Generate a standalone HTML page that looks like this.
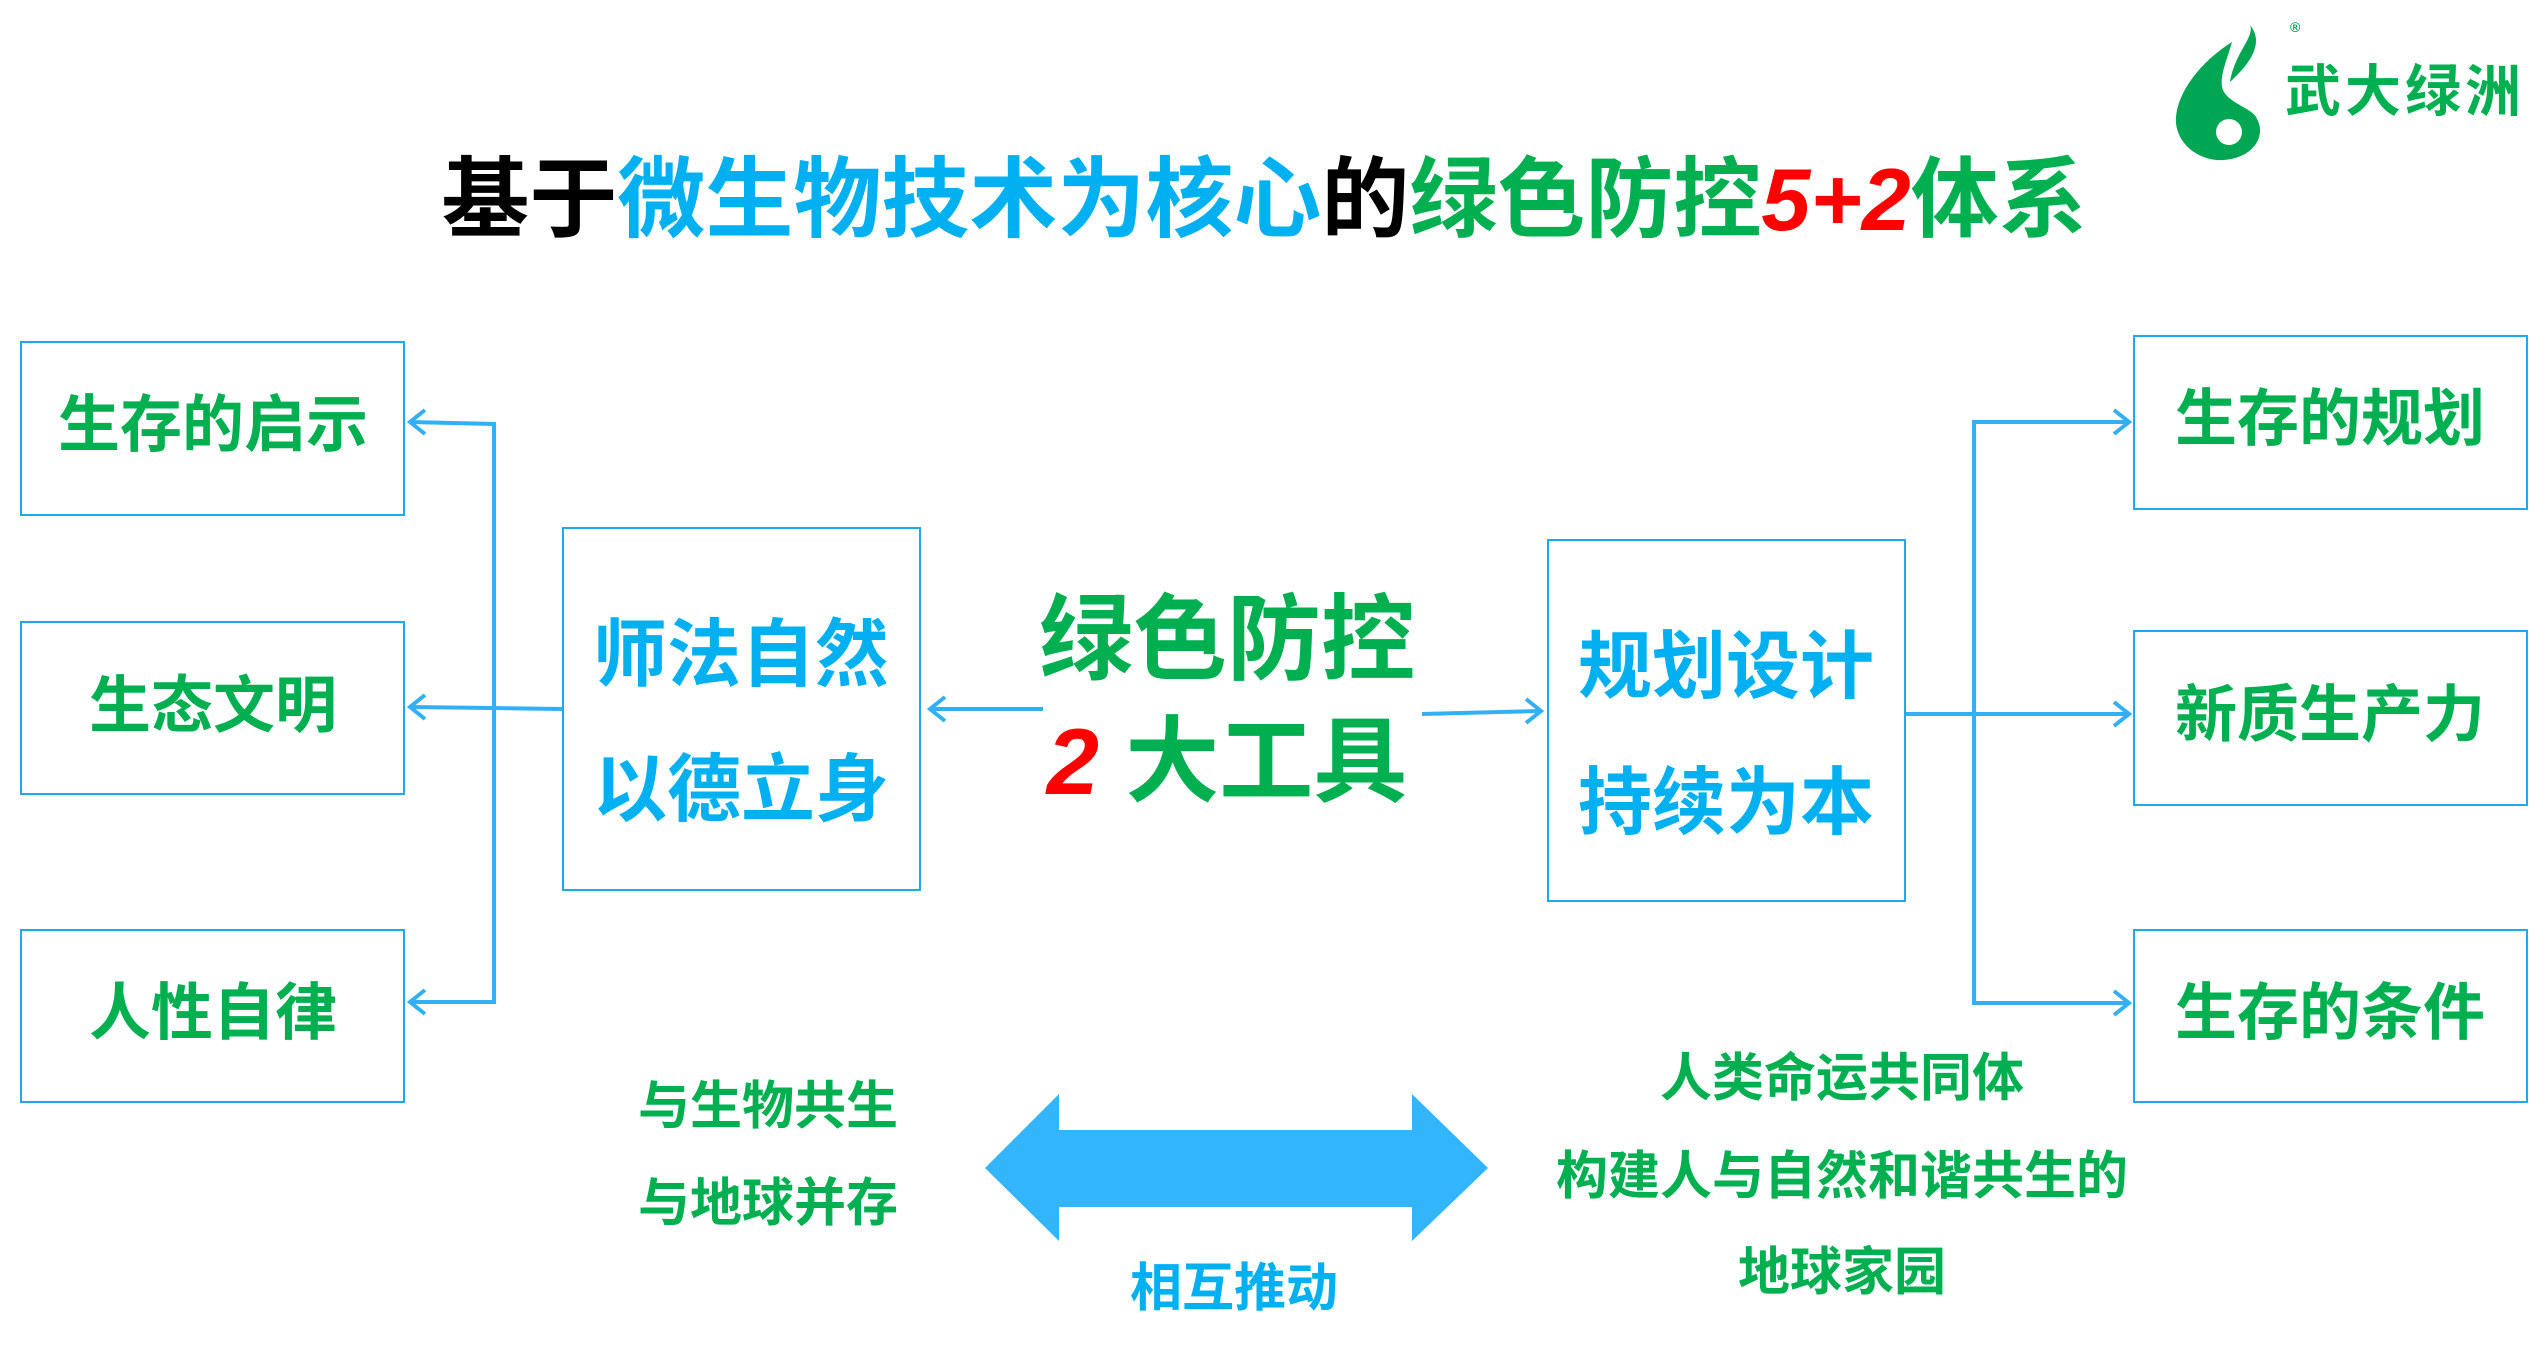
<!DOCTYPE html>
<html><head><meta charset="utf-8"><style>
html,body{margin:0;padding:0;background:#fff}
body{width:2548px;height:1358px;position:relative;overflow:hidden;font-family:"Liberation Sans","Noto Sans CJK SC","WenQuanYi Zen Hei",sans-serif;font-weight:bold}
.t{position:absolute;white-space:nowrap;line-height:1;transform:translate(-50%,-50%)}
.g{color:#00b050}.c{color:#00b0f0}.r{color:#ff0000}.k{color:#000}
.box{position:absolute;border:2px solid #1ea8ee;box-sizing:border-box}
</style></head><body>
<svg width="2548" height="1358" style="position:absolute;left:0;top:0">
<g stroke="#33b0f5" stroke-width="4" fill="none">
<polyline points="410,422 494,424 494,1002 410,1002"/>
<line x1="562" y1="709" x2="410" y2="707"/>
<line x1="1043" y1="709" x2="930" y2="709"/>
<line x1="1422" y1="714" x2="1541" y2="711"/>
<line x1="1905" y1="714" x2="2129" y2="714"/>
<polyline points="2129,422 1974,422 1974,1003 2129,1003"/>
<polyline points="425,410 410,422 425,434"/><polyline points="425,695 410,707 425,719"/><polyline points="425,990 410,1002 425,1014"/>
<polyline points="945,697 930,709 945,721"/><polyline points="1526,699 1541,711 1526,723"/>
<polyline points="2114,702 2129,714 2114,726"/><polyline points="2114,410 2129,422 2114,434"/><polyline points="2114,991 2129,1003 2114,1015"/>
</g>
<polygon points="985,1168 1059,1094 1059,1130 1412,1130 1412,1094 1488,1168 1412,1241 1412,1207 1059,1207 1059,1241" fill="#33b5fb"/>
<path d="M2232,42 C2200,62 2178,92 2176,117 C2174,142 2198,162 2224,160 C2252,158 2268,137 2256,117 C2250,107 2225,102 2222,87 C2220,74 2228,57 2232,42 Z M2216,132 a13,13 0 1,0 26,0 a13,13 0 1,0 -26,0" fill="#00a651" fill-rule="evenodd"/>
<path d="M2230,82 C2235,52 2255,37 2250,25 C2264,42 2252,62 2230,82 Z" fill="#00a651"/>
<text x="2290" y="32" font-size="14" fill="#00a651" font-family="Liberation Sans">®</text>
</svg>
<div class="t g" style="left:2405px;top:92px;font-size:56px;letter-spacing:4px">武大绿洲</div>
<div class="t" style="left:1264px;top:200px;font-size:88px"><span class="k">基于</span><span class="c">微生物技术为核心</span><span class="k">的</span><span class="g">绿色防控</span><span class="r" style="font-style:italic">5+2</span><span class="g">体系</span></div>

<div class="box" style="left:20px;top:341px;width:385px;height:175px"></div>
<div class="box" style="left:20px;top:621px;width:385px;height:174px"></div>
<div class="box" style="left:20px;top:929px;width:385px;height:174px"></div>
<div class="t g" style="left:213px;top:426px;font-size:62px">生存的启示</div>
<div class="t g" style="left:213px;top:707px;font-size:62px">生态文明</div>
<div class="t g" style="left:213px;top:1014px;font-size:62px">人性自律</div>

<div class="box" style="left:562px;top:527px;width:359px;height:364px"></div>
<div class="t c" style="left:741px;top:655px;font-size:74px">师法自然</div>
<div class="t c" style="left:741px;top:790px;font-size:74px">以德立身</div>

<div class="t g" style="left:1227px;top:640px;font-size:94px">绿色防控</div>
<div class="t g" style="left:1227px;top:762px;font-size:94px"><span class="r" style="font-style:italic">2</span> 大工具</div>

<div class="box" style="left:1547px;top:539px;width:359px;height:363px"></div>
<div class="t c" style="left:1726px;top:667px;font-size:74px">规划设计</div>
<div class="t c" style="left:1726px;top:803px;font-size:74px">持续为本</div>

<div class="box" style="left:2133px;top:335px;width:395px;height:175px"></div>
<div class="box" style="left:2133px;top:630px;width:395px;height:176px"></div>
<div class="box" style="left:2133px;top:929px;width:395px;height:174px"></div>
<div class="t g" style="left:2330px;top:420px;font-size:62px">生存的规划</div>
<div class="t g" style="left:2330px;top:716px;font-size:62px">新质生产力</div>
<div class="t g" style="left:2330px;top:1014px;font-size:62px">生存的条件</div>

<div class="t g" style="left:768px;top:1107px;font-size:52px">与生物共生</div>
<div class="t g" style="left:768px;top:1204px;font-size:52px">与地球并存</div>
<div class="t c" style="left:1234px;top:1289px;font-size:52px">相互推动</div>
<div class="t g" style="left:1842px;top:1079px;font-size:52px">人类命运共同体</div>
<div class="t g" style="left:1842px;top:1177px;font-size:52px">构建人与自然和谐共生的</div>
<div class="t g" style="left:1842px;top:1273px;font-size:52px">地球家园</div>
</body></html>
